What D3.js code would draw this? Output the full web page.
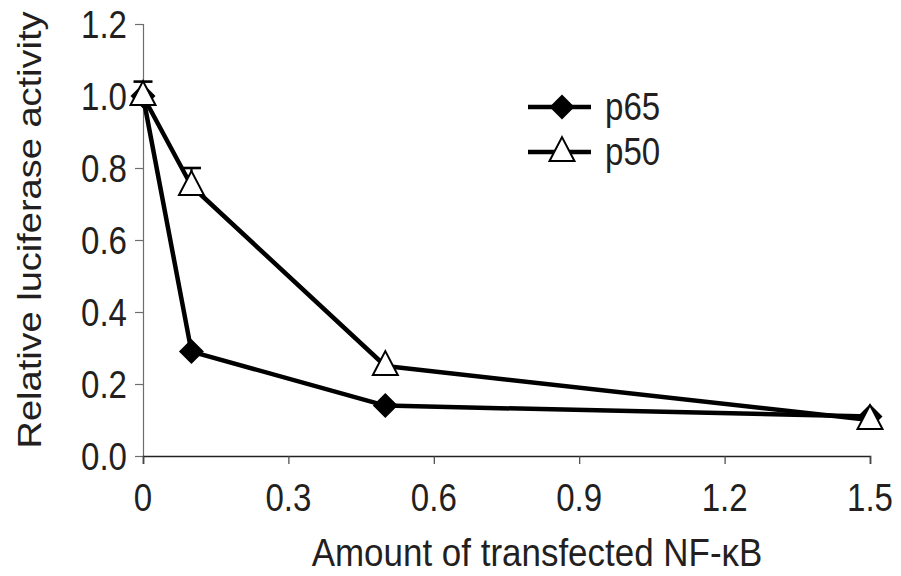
<!DOCTYPE html>
<html>
<head>
<meta charset="utf-8">
<script src="https://cdn.jsdelivr.net/npm/d3@7"></script>
<style>
  html, body { margin: 0; padding: 0; background: #fff; }
  svg { display: block; }
  text { font-family: "Liberation Sans", Arial, sans-serif; fill: #231f20; }
</style>
</head>
<body>
<script>
// Dose of transfected NF-κB (µg) and relative luciferase activity
const doses = [0, 0.1, 0.5, 1.5];
const p65 = [1.0, 0.29, 0.14, 0.11];
const p50 = [1.0, 0.75, 0.25, 0.10];
const p50Err = [0.04, 0.05, 0, 0];
const xTicks = [0, 0.3, 0.6, 0.9, 1.2, 1.5];
const xTickLabels = ["0", "0.3", "0.6", "0.9", "1.2", "1.5"];
const yTicks = [0, 0.2, 0.4, 0.6, 0.8, 1.0, 1.2];
const seriesNames = ["p65", "p50"];

const W = 901, H = 576;
const FS = 38;

const svg = d3.select("body").append("svg").attr("width", W).attr("height", H);

const x = d3.scaleLinear().domain([0, 1.5]).range([143, 870]);
const y = d3.scaleLinear().domain([0, 1.2]).range([456, 24]);

// narrow-set text helper
function label(g, tx, ty, str, anchor, sx, rot) {
  const t = g.append("g").attr("transform", `translate(${tx},${ty}) scale(${sx},1)` + (rot ? ` rotate(${rot})` : ""));
  t.append("text").attr("text-anchor", anchor).attr("font-size", FS).text(str);
  return t;
}

// Y axis
const yAxis = svg.append("g").attr("transform", `translate(${x(0)},0)`)
  .call(d3.axisLeft(y).tickValues(yTicks).tickSize(8).tickFormat(""));
yAxis.select(".domain").attr("stroke", "#6d6d6d").attr("stroke-width", 1.2);
yAxis.selectAll(".tick line").attr("stroke", "#6d6d6d").attr("stroke-width", 1.2);
yTicks.forEach(v => label(svg, 127, y(v) + 13.5, d3.format(".1f")(v), "end", 0.87));

// X axis
const xAxis = svg.append("g").attr("transform", `translate(0,${y(0)})`)
  .call(d3.axisBottom(x).tickValues(xTicks).tickSize(8).tickFormat(""));
xAxis.select(".domain").attr("stroke", "#222").attr("stroke-width", 1.6);
xAxis.selectAll(".tick line").attr("stroke", "#444").attr("stroke-width", 1.2);
xTicks.forEach((v, i) => label(svg, x(v), 511, xTickLabels[i], "middle", 0.87));

// Axis titles
label(svg, 537, 566, "Amount of transfected NF-κB", "middle", 0.92);
label(svg, 41, 230, "Relative luciferase activity", "middle", 0.85, -90);

const line = d3.line().x((d, i) => x(doses[i])).y(d => y(d));

const diamond = r => `M0,${-r}L${r},0L0,${r}L${-r},0Z`;
const tri = s => `M0,${-s * 0.62}L${s * 0.52},${s * 0.38}L${-s * 0.52},${s * 0.38}Z`;

// p65 series
svg.append("path").datum(p65).attr("d", line)
  .attr("fill", "none").attr("stroke", "#000").attr("stroke-width", 4.5).attr("stroke-linejoin", "round");
svg.selectAll(".p65").data(p65).join("path").attr("class", "p65")
  .attr("transform", (d, i) => `translate(${x(doses[i])},${y(d)})`)
  .attr("d", diamond(12.5)).attr("fill", "#000");

// p50 error bars (upper)
const eb = svg.append("g");
p50.forEach((v, i) => {
  if (!p50Err[i]) return;
  const cx = x(doses[i]), top = y(v + p50Err[i]);
  eb.append("line").attr("x1", cx).attr("x2", cx).attr("y1", y(v)).attr("y2", top)
    .attr("stroke", "#000").attr("stroke-width", 2.2);
  eb.append("line").attr("x1", cx - 9.5).attr("x2", cx + 9.5).attr("y1", top).attr("y2", top)
    .attr("stroke", "#000").attr("stroke-width", 2.6);
});

// p50 series
svg.append("path").datum(p50).attr("d", line)
  .attr("fill", "none").attr("stroke", "#000").attr("stroke-width", 4.5).attr("stroke-linejoin", "round");
svg.selectAll(".p50").data(p50).join("path").attr("class", "p50")
  .attr("transform", (d, i) => `translate(${x(doses[i])},${y(d)})`)
  .attr("d", tri(24)).attr("fill", "#fff").attr("stroke", "#000").attr("stroke-width", 2);

// Legend
const legY = [107, 152];
seriesNames.forEach((name, k) => {
  const g = svg.append("g").attr("transform", `translate(0,${legY[k]})`);
  g.append("line").attr("x1", 528).attr("x2", 591).attr("y1", 0).attr("y2", 0)
    .attr("stroke", "#000").attr("stroke-width", 4.5);
  if (k === 0) {
    g.append("path").attr("transform", "translate(562,0)").attr("d", diamond(12.5)).attr("fill", "#000");
  } else {
    g.append("path").attr("transform", "translate(562,0)").attr("d", tri(24))
      .attr("fill", "#fff").attr("stroke", "#000").attr("stroke-width", 2);
  }
  label(g, 605, 13, name, "start", 0.87);
});
</script>
</body>
</html>
